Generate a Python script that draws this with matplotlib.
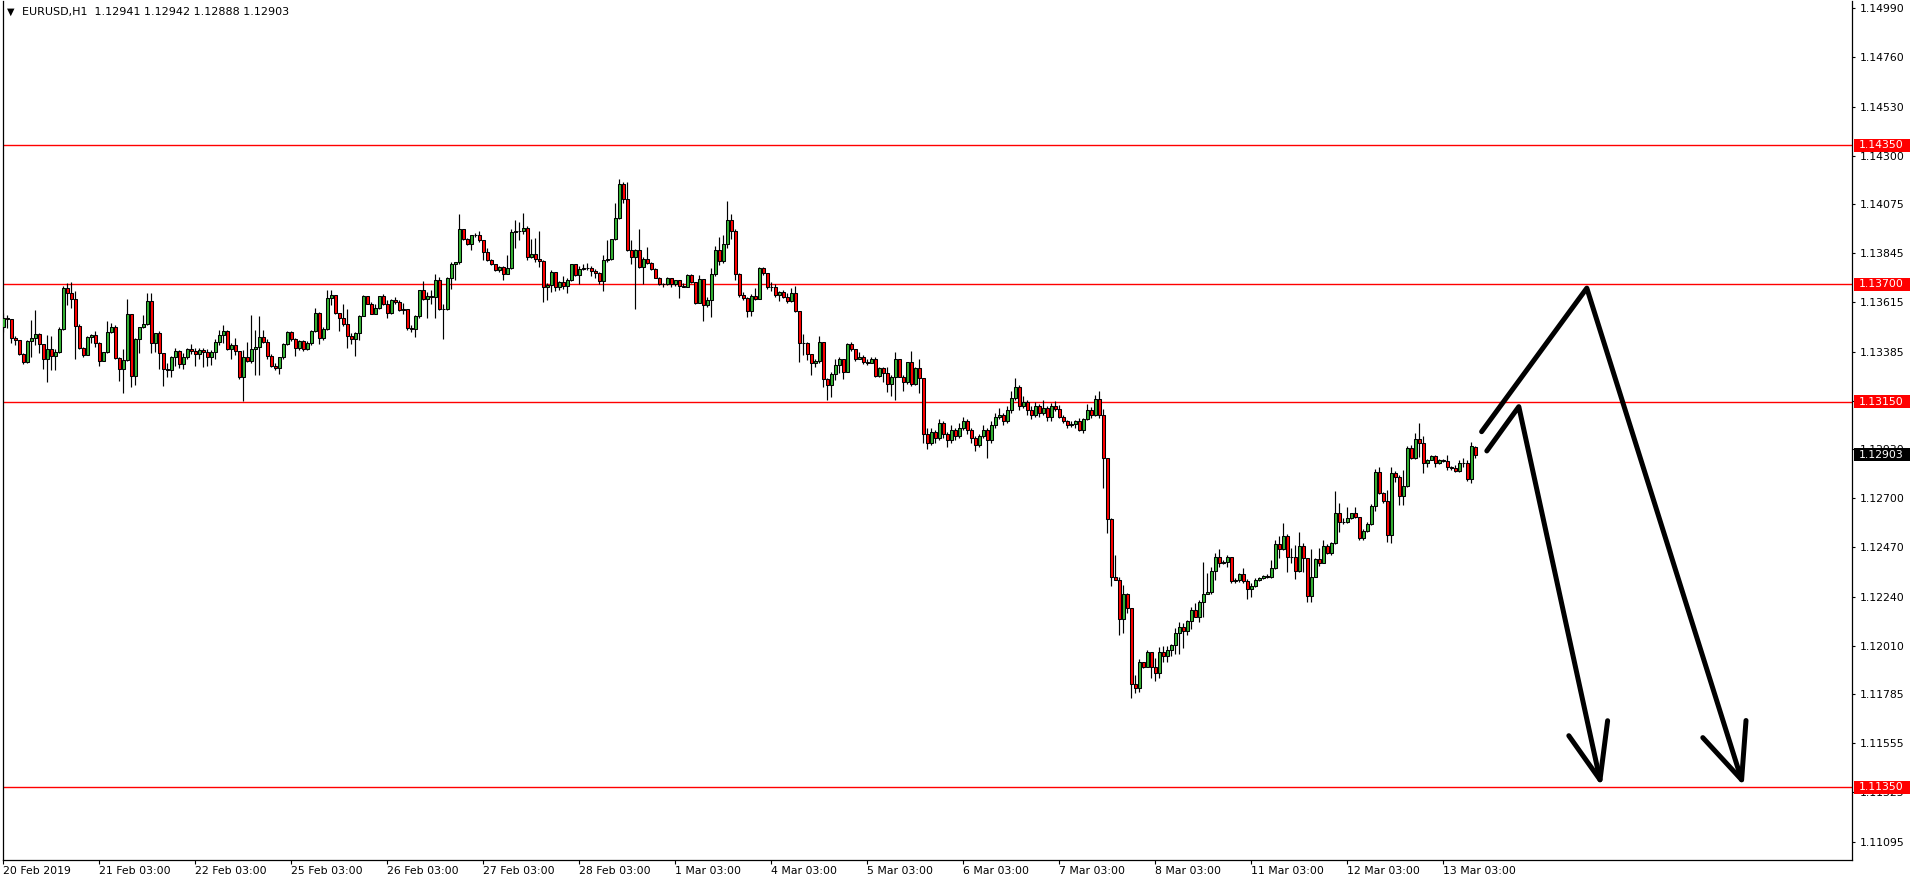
import numpy as np
import matplotlib
matplotlib.use("Agg")
import matplotlib.pyplot as plt
import matplotlib.transforms as mtransforms
from matplotlib.patches import Rectangle

# ---- data ----
chart_title = "EURUSD,H1  1.12941 1.12942 1.12888 1.12903"
first_open = 1.13501
last_open = 1.12941

closes = [
    1.13540, 1.13536, 1.13447, 1.13439, 1.13372, 1.13335, 1.13435, 1.13447, 1.13467, 1.13419,
    1.13352, 1.13396, 1.13366, 1.13383, 1.13489, 1.13681, 1.13657, 1.13629, 1.13506, 1.13400,
    1.13369, 1.13452, 1.13461, 1.13424, 1.13343, 1.13382, 1.13478, 1.13498, 1.13355, 1.13302,
    1.13346, 1.13561, 1.13273, 1.13442, 1.13498, 1.13512, 1.13621, 1.13427, 1.13473, 1.13380,
    1.13302, 1.13299, 1.13361, 1.13389, 1.13325, 1.13358, 1.13396, 1.13389, 1.13372, 1.13392,
    1.13385, 1.13358, 1.13383, 1.13430, 1.13463, 1.13481, 1.13396, 1.13416, 1.13386, 1.13268,
    1.13358, 1.13343, 1.13396, 1.13405, 1.13452, 1.13431, 1.13364, 1.13318, 1.13307, 1.13358,
    1.13419, 1.13477, 1.13442, 1.13400, 1.13435, 1.13397, 1.13427, 1.13481, 1.13567, 1.13447,
    1.13493, 1.13638, 1.13649, 1.13566, 1.13544, 1.13516, 1.13459, 1.13443, 1.13474, 1.13554,
    1.13644, 1.13610, 1.13563, 1.13591, 1.13647, 1.13610, 1.13566, 1.13628, 1.13618, 1.13579,
    1.13586, 1.13496, 1.13493, 1.13551, 1.13672, 1.13633, 1.13644, 1.13641, 1.13722, 1.13586,
    1.13586, 1.13731, 1.13794, 1.13803, 1.13960, 1.13913, 1.13887, 1.13928, 1.13928, 1.13906,
    1.13851, 1.13815, 1.13794, 1.13766, 1.13781, 1.13750, 1.13778, 1.13943, 1.13949, 1.13949,
    1.13965, 1.13828, 1.13843, 1.13820, 1.13809, 1.13688, 1.13695, 1.13755, 1.13688, 1.13711,
    1.13692, 1.13719, 1.13794, 1.13742, 1.13773, 1.13775, 1.13776, 1.13762, 1.13753, 1.13716,
    1.13815, 1.13820, 1.13910, 1.14012, 1.14167, 1.14100, 1.13862, 1.13828, 1.13862, 1.13781,
    1.13817, 1.13800, 1.13770, 1.13731, 1.13699, 1.13700, 1.13727, 1.13700, 1.13719, 1.13692,
    1.13688, 1.13742, 1.13711, 1.13613, 1.13723, 1.13603, 1.13626, 1.13748, 1.13860, 1.13810,
    1.13890, 1.14000, 1.13950, 1.13750, 1.13649, 1.13634, 1.13576, 1.13645, 1.13629, 1.13774,
    1.13751, 1.13688, 1.13685, 1.13649, 1.13662, 1.13642, 1.13623, 1.13657, 1.13576, 1.13424,
    1.13424, 1.13372, 1.13330, 1.13341, 1.13428, 1.13255, 1.13229, 1.13279, 1.13321, 1.13349,
    1.13291, 1.13419, 1.13396, 1.13353, 1.13361, 1.13338, 1.13330, 1.13352, 1.13273, 1.13307,
    1.13287, 1.13234, 1.13265, 1.13353, 1.13268, 1.13241, 1.13335, 1.13234, 1.13307, 1.13260,
    1.13000, 1.12960, 1.13010, 1.12980, 1.13050, 1.13000, 1.12970, 1.13020, 1.12990, 1.13030,
    1.13060, 1.13020, 1.12980, 1.12950, 1.12990, 1.13020, 1.12970, 1.13040, 1.13080, 1.13090,
    1.13060, 1.13110, 1.13170, 1.13220, 1.13130, 1.13150, 1.13110, 1.13090, 1.13130, 1.13100,
    1.13120, 1.13080, 1.13131, 1.13115, 1.13081, 1.13062, 1.13042, 1.13045, 1.13059, 1.13018,
    1.13068, 1.13112, 1.13090, 1.13162, 1.13087, 1.12886, 1.12601, 1.12330, 1.12317, 1.12134,
    1.12252, 1.12185, 1.11831, 1.11811, 1.11933, 1.11912, 1.11979, 1.11909, 1.11881, 1.11983,
    1.11962, 1.11990, 1.12014, 1.12068, 1.12096, 1.12081, 1.12126, 1.12177, 1.12146, 1.12216,
    1.12252, 1.12260, 1.12360, 1.12426, 1.12398, 1.12403, 1.12423, 1.12314, 1.12317, 1.12344,
    1.12314, 1.12278, 1.12289, 1.12317, 1.12325, 1.12336, 1.12333, 1.12372, 1.12486, 1.12461,
    1.12523, 1.12426, 1.12426, 1.12361, 1.12476, 1.12419, 1.12244, 1.12333, 1.12414, 1.12398,
    1.12476, 1.12442, 1.12489, 1.12629, 1.12590, 1.12590, 1.12606, 1.12629, 1.12610, 1.12512,
    1.12548, 1.12579, 1.12663, 1.12824, 1.12726, 1.12688, 1.12528, 1.12816, 1.12797, 1.12711,
    1.12757, 1.12933, 1.12886, 1.12975, 1.12959, 1.12863, 1.12878, 1.12897, 1.12863, 1.12878,
    1.12875, 1.12844, 1.12841, 1.12828, 1.12863, 1.12866, 1.12788, 1.12944, 1.12903,
]

highs = [
    1.13564, 1.13556, 1.13509, 1.13458, 1.13439, 1.13380, 1.13439, 1.13533, 1.13582, 1.13473,
    1.13419, 1.13463, 1.13458, 1.13396, 1.13502, 1.13692, 1.13704, 1.13709, 1.13668, 1.13512,
    1.13405, 1.13458, 1.13467, 1.13483, 1.13430, 1.13382, 1.13528, 1.13517, 1.13509, 1.13358,
    1.13396, 1.13629, 1.13561, 1.13447, 1.13502, 1.13556, 1.13660, 1.13657, 1.13473, 1.13483,
    1.13380, 1.13330, 1.13364, 1.13400, 1.13392, 1.13380, 1.13400, 1.13420, 1.13400, 1.13400,
    1.13400, 1.13396, 1.13392, 1.13442, 1.13486, 1.13509, 1.13486, 1.13424, 1.13447, 1.13383,
    1.13392, 1.13431, 1.13556, 1.13486, 1.13551, 1.13486, 1.13442, 1.13374, 1.13333, 1.13361,
    1.13424, 1.13483, 1.13483, 1.13447, 1.13439, 1.13439, 1.13433, 1.13486, 1.13587, 1.13572,
    1.13501, 1.13672, 1.13672, 1.13649, 1.13566, 1.13607, 1.13586, 1.13473, 1.13477, 1.13557,
    1.13649, 1.13644, 1.13618, 1.13610, 1.13647, 1.13653, 1.13628, 1.13633, 1.13641, 1.13628,
    1.13613, 1.13586, 1.13509, 1.13555, 1.13675, 1.13716, 1.13664, 1.13675, 1.13750, 1.13734,
    1.13610, 1.13734, 1.13804, 1.13804, 1.14027, 1.13960, 1.13918, 1.13931, 1.13940, 1.13950,
    1.13909, 1.13871, 1.13820, 1.13797, 1.13784, 1.13784, 1.13836, 1.13960, 1.13999, 1.13991,
    1.14035, 1.13971, 1.13913, 1.13918, 1.13950, 1.13815, 1.13706, 1.13766, 1.13758, 1.13716,
    1.13737, 1.13727, 1.13797, 1.13797, 1.13784, 1.13797, 1.13800, 1.13784, 1.13773, 1.13758,
    1.13836, 1.13909, 1.13913, 1.14080, 1.14194, 1.14178, 1.14178, 1.13909, 1.13867, 1.13960,
    1.13828, 1.13875, 1.13804, 1.13778, 1.13734, 1.13706, 1.13734, 1.13731, 1.13722, 1.13719,
    1.13706, 1.13750, 1.13747, 1.13706, 1.13743, 1.13634, 1.13642, 1.13774, 1.13880, 1.13920,
    1.13930, 1.14090, 1.14030, 1.13960, 1.13751, 1.13665, 1.13642, 1.13654, 1.13681, 1.13782,
    1.13779, 1.13751, 1.13712, 1.13701, 1.13670, 1.13673, 1.13657, 1.13681, 1.13692, 1.13576,
    1.13467, 1.13431, 1.13374, 1.13353, 1.13458, 1.13431, 1.13260, 1.13291, 1.13353, 1.13361,
    1.13318, 1.13427, 1.13431, 1.13385, 1.13385, 1.13369, 1.13353, 1.13361, 1.13358, 1.13315,
    1.13311, 1.13315, 1.13276, 1.13385, 1.13353, 1.13276, 1.13338, 1.13389, 1.13311, 1.13349,
    1.13250, 1.13030, 1.13030, 1.13020, 1.13070, 1.13060, 1.13010, 1.13040, 1.13030, 1.13050,
    1.13080, 1.13070, 1.13030, 1.12990, 1.13000, 1.13040, 1.13030, 1.13060, 1.13100, 1.13120,
    1.13100, 1.13130, 1.13200, 1.13260, 1.13230, 1.13180, 1.13160, 1.13130, 1.13150, 1.13140,
    1.13160, 1.13130, 1.13143, 1.13155, 1.13135, 1.13088, 1.13065, 1.13062, 1.13065, 1.13073,
    1.13073, 1.13140, 1.13127, 1.13182, 1.13202, 1.13115, 1.12886, 1.12606, 1.12434, 1.12333,
    1.12294, 1.12258, 1.12185, 1.11873, 1.11947, 1.11931, 1.11990, 1.11983, 1.11951, 1.12006,
    1.12009, 1.12009, 1.12018, 1.12092, 1.12123, 1.12115, 1.12130, 1.12190, 1.12208, 1.12224,
    1.12403, 1.12349, 1.12380, 1.12445, 1.12461, 1.12411, 1.12434, 1.12426, 1.12325, 1.12352,
    1.12372, 1.12321, 1.12302, 1.12325, 1.12333, 1.12341, 1.12345, 1.12411, 1.12507, 1.12523,
    1.12582, 1.12532, 1.12465, 1.12481, 1.12543, 1.12489, 1.12419, 1.12461, 1.12419, 1.12465,
    1.12504, 1.12486, 1.12497, 1.12735, 1.12676, 1.12606, 1.12657, 1.12632, 1.12660, 1.12613,
    1.12554, 1.12590, 1.12671, 1.12835, 1.12844, 1.12730, 1.12738, 1.12844, 1.12828, 1.12808,
    1.12831, 1.12944, 1.12948, 1.13003, 1.13053, 1.12990, 1.12881, 1.12900, 1.12902, 1.12883,
    1.12881, 1.12902, 1.12850, 1.12855, 1.12878, 1.12886, 1.12878, 1.12964, 1.12942,
]

lows = [
    1.13478, 1.13494, 1.13424, 1.13416, 1.13369, 1.13325, 1.13330, 1.13361, 1.13416, 1.13377,
    1.13302, 1.13244, 1.13299, 1.13299, 1.13380, 1.13486, 1.13603, 1.13587, 1.13349, 1.13396,
    1.13361, 1.13369, 1.13427, 1.13405, 1.13319, 1.13343, 1.13380, 1.13473, 1.13350, 1.13249,
    1.13190, 1.13343, 1.13218, 1.13229, 1.13380, 1.13494, 1.13509, 1.13380, 1.13385, 1.13302,
    1.13224, 1.13265, 1.13268, 1.13318, 1.13307, 1.13304, 1.13353, 1.13374, 1.13318, 1.13352,
    1.13315, 1.13318, 1.13322, 1.13353, 1.13416, 1.13424, 1.13392, 1.13349, 1.13369, 1.13255,
    1.13156, 1.13338, 1.13330, 1.13276, 1.13276, 1.13424, 1.13349, 1.13315, 1.13299, 1.13280,
    1.13353, 1.13416, 1.13436, 1.13364, 1.13392, 1.13389, 1.13392, 1.13416, 1.13478, 1.13421,
    1.13439, 1.13488, 1.13602, 1.13563, 1.13482, 1.13504, 1.13400, 1.13423, 1.13365, 1.13439,
    1.13551, 1.13607, 1.13560, 1.13571, 1.13586, 1.13602, 1.13540, 1.13560, 1.13610, 1.13575,
    1.13563, 1.13488, 1.13477, 1.13454, 1.13543, 1.13628, 1.13544, 1.13607, 1.13543, 1.13582,
    1.13446, 1.13582, 1.13680, 1.13719, 1.13794, 1.13909, 1.13882, 1.13859, 1.13921, 1.13898,
    1.13812, 1.13809, 1.13789, 1.13762, 1.13758, 1.13722, 1.13747, 1.13773, 1.13871, 1.13909,
    1.13937, 1.13815, 1.13825, 1.13804, 1.13781, 1.13618, 1.13628, 1.13664, 1.13669, 1.13672,
    1.13680, 1.13660, 1.13716, 1.13737, 1.13700, 1.13766, 1.13766, 1.13737, 1.13731, 1.13700,
    1.13669, 1.13804, 1.13815, 1.13906, 1.14007, 1.14080, 1.13856, 1.13797, 1.13586, 1.13778,
    1.13700, 1.13794, 1.13766, 1.13727, 1.13695, 1.13688, 1.13695, 1.13688, 1.13691, 1.13638,
    1.13685, 1.13685, 1.13706, 1.13610, 1.13613, 1.13530, 1.13595, 1.13548, 1.13740, 1.13790,
    1.13800, 1.13870, 1.13910, 1.13720, 1.13639, 1.13626, 1.13545, 1.13551, 1.13626, 1.13754,
    1.13743, 1.13676, 1.13670, 1.13642, 1.13623, 1.13634, 1.13614, 1.13618, 1.13572, 1.13338,
    1.13369, 1.13346, 1.13276, 1.13311, 1.13330, 1.13221, 1.13159, 1.13174, 1.13252, 1.13283,
    1.13255, 1.13299, 1.13389, 1.13343, 1.13349, 1.13327, 1.13322, 1.13330, 1.13268, 1.13265,
    1.13244, 1.13198, 1.13177, 1.13159, 1.13265, 1.13202, 1.13234, 1.13224, 1.13229, 1.13190,
    1.12960, 1.12930, 1.12950, 1.12960, 1.12970, 1.12980, 1.12940, 1.12960, 1.12970, 1.12980,
    1.13020, 1.13000, 1.12960, 1.12920, 1.12940, 1.12980, 1.12890, 1.12960, 1.13030, 1.13070,
    1.13040, 1.13050, 1.13100, 1.13160, 1.13110, 1.13120, 1.13090, 1.13070, 1.13080, 1.13080,
    1.13090, 1.13060, 1.13062, 1.13109, 1.13073, 1.13053, 1.13026, 1.13034, 1.13026, 1.13015,
    1.13006, 1.13065, 1.13073, 1.13084, 1.13073, 1.12746, 1.12539, 1.12289, 1.12317, 1.12060,
    1.12071, 1.12162, 1.11764, 1.11788, 1.11796, 1.11905, 1.11909, 1.11858, 1.11847, 1.11858,
    1.11936, 1.11936, 1.11962, 1.11972, 1.11972, 1.11998, 1.12060, 1.12087, 1.12143, 1.12123,
    1.12143, 1.12255, 1.12252, 1.12317, 1.12377, 1.12392, 1.12380, 1.12305, 1.12302, 1.12310,
    1.12305, 1.12227, 1.12236, 1.12283, 1.12314, 1.12321, 1.12325, 1.12325, 1.12367, 1.12419,
    1.12458, 1.12356, 1.12398, 1.12322, 1.12356, 1.12356, 1.12216, 1.12216, 1.12330, 1.12383,
    1.12395, 1.12439, 1.12434, 1.12486, 1.12543, 1.12579, 1.12585, 1.12601, 1.12606, 1.12507,
    1.12504, 1.12543, 1.12574, 1.12641, 1.12722, 1.12679, 1.12497, 1.12489, 1.12777, 1.12668,
    1.12668, 1.12754, 1.12881, 1.12881, 1.12894, 1.12819, 1.12847, 1.12881, 1.12847, 1.12860,
    1.12870, 1.12831, 1.12831, 1.12824, 1.12824, 1.12844, 1.12782, 1.12772, 1.12888,
]

level_lines = [1.14350, 1.13700, 1.13150, 1.11350]
last_price = 1.12903

price_ticks = [1.14990, 1.14760, 1.14530, 1.14300, 1.14075, 1.13845, 1.13615, 1.13385, 1.13155,
               1.12930, 1.12700, 1.12470, 1.12240, 1.12010, 1.11785, 1.11555, 1.11325, 1.11095]

date_labels = ["20 Feb 2019", "21 Feb 03:00", "22 Feb 03:00", "25 Feb 03:00", "26 Feb 03:00",
               "27 Feb 03:00", "28 Feb 03:00", "1 Mar 03:00", "4 Mar 03:00", "5 Mar 03:00",
               "6 Mar 03:00", "7 Mar 03:00", "8 Mar 03:00", "11 Mar 03:00", "12 Mar 03:00",
               "13 Mar 03:00"]
bars_per_day = 24

# hand-drawn arrows (bar index, price)
arrow_long = [(369.6, 1.13011), (395.9, 1.13682), (434.6, 1.11384)]
arrow_long_head = [(424.9, 1.11581), (434.6, 1.11384), (435.7, 1.11661)]
arrow_short = [(370.9, 1.12921), (378.9, 1.13128), (399.2, 1.11384)]
arrow_short_head = [(391.4, 1.11590), (399.2, 1.11384), (401.1, 1.11660)]

assert len(closes) == len(highs) == len(lows), (len(closes), len(highs), len(lows))

# ---- figure ----
W, H = 1916, 884
fig = plt.figure(figsize=(W / 100, H / 100), dpi=100)
fig.patch.set_facecolor("white")
ax = fig.add_axes([2.5 / W, 24 / H, 1849.5 / W, 859 / H])

c = np.array(closes)
o = np.r_[first_open, c[:-1]]
o[-1] = last_open
hi = np.maximum.reduce([np.array(highs), o, c])
lo = np.minimum.reduce([np.array(lows), o, c])
x = np.arange(len(c))
up = c >= o
fill = np.where(up, "#33b233", "#ff0000")

for lvl in level_lines:
    ax.axhline(lvl, color="#ff0000", lw=1.0, zorder=1)

ax.vlines(x, lo, hi, color="black", lw=0.85, zorder=2)
ax.bar(x, np.abs(c - o), bottom=np.minimum(o, c), width=0.74, color=fill,
       edgecolor="black", linewidth=0.75, zorder=3)

for line in (arrow_long, arrow_long_head, arrow_short, arrow_short_head):
    xs, ys = zip(*line)
    ax.plot(xs, ys, color="black", lw=3.6, solid_capstyle="round",
            solid_joinstyle="round", zorder=4)

ax.set_xlim(-0.2, 462.2)
ax.set_ylim(1.11009, 1.15024)

for s in ("left", "right", "bottom"):
    ax.spines[s].set_linewidth(0.9)
ax.spines["top"].set_visible(False)

ax.yaxis.tick_right()
ax.set_yticks(price_ticks)
ax.set_yticklabels([f"{p:.5f}" for p in price_ticks])
ax.tick_params(axis="y", direction="out", length=2.5, width=0.8, pad=3,
               labelsize=7.8, colors="black")

ax.set_xticks([i * bars_per_day for i in range(len(date_labels))])
ax.set_xticklabels(date_labels)
for lbl in ax.get_xticklabels():
    lbl.set_horizontalalignment("left")
ax.tick_params(axis="x", direction="out", length=3, width=0.8, pad=1.5,
               labelsize=7.8, colors="black")

# price tags on the right scale
tr = mtransforms.blended_transform_factory(ax.transAxes, ax.transData)
box_h = 13 * (1.15024 - 1.11009) / 859
x0 = (1854 - 2.5) / 1849.5
bw = 56 / 1849.5
for lvl, bg in [(v, "#ff0000") for v in level_lines] + [(last_price, "black")]:
    ax.add_patch(Rectangle((x0, lvl - box_h / 2), bw, box_h, transform=tr,
                           facecolor=bg, edgecolor="none", clip_on=False, zorder=6))
    ax.text((1859 - 2.5) / 1849.5, lvl, f"{lvl:.5f}", transform=tr, color="white",
            fontsize=7.8, va="center", ha="left", clip_on=False, zorder=7)

fig.text(11 / W, 1 - 12 / H, "\u25bc", fontsize=7, ha="center", va="center")
fig.text(22 / W, 1 - 12.5 / H, chart_title, fontsize=8, ha="left", va="center")

fig.savefig("out.png", dpi=100)
